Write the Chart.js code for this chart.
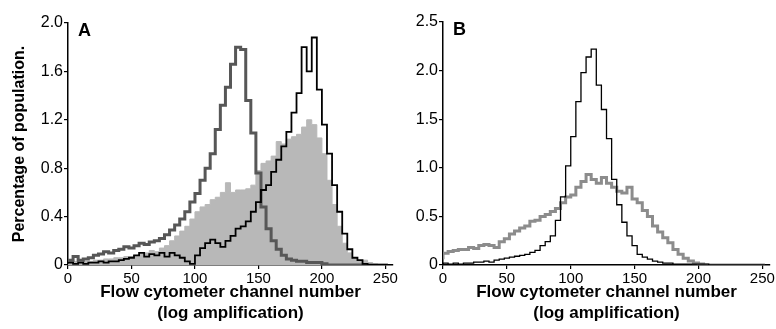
<!DOCTYPE html>
<html>
<head>
<meta charset="utf-8">
<script src="https://cdn.jsdelivr.net/npm/chart.js@4.4.0/dist/chart.umd.min.js"></script>
<style>
  body { margin: 0; background: #fff; }
  #chartA { position: absolute; left: 0; top: 0; }
  #chartB { position: absolute; left: 400px; top: 0; }
</style>
</head>
<body>
<canvas id="chartA" width="400" height="329"></canvas>
<canvas id="chartB" width="376" height="329"></canvas>
<script>
// flow cytometer channels (4-channel bins)
const channels = [0, 4, 8, 12, 16, 20, 24, 28, 32, 36, 40, 44, 48, 52, 56, 60,
  64, 68, 72, 76, 80, 84, 88, 92, 96, 100, 104, 108, 112, 116, 120, 124,
  128, 132, 136, 140, 144, 148, 152, 156, 160, 164, 168, 172, 176, 180, 184, 188,
  192, 196, 200, 204, 208, 212, 216, 220, 224, 228, 232, 236, 240, 244, 248, 252];

// panel A
const darkA = [0.03, 0.04, 0.07, 0.04, 0.05, 0.06, 0.08, 0.09, 0.11, 0.10, 0.12, 0.13, 0.15, 0.14, 0.16, 0.18,
  0.17, 0.19, 0.20, 0.22, 0.25, 0.29, 0.33, 0.38, 0.44, 0.52, 0.59, 0.70, 0.80, 0.92, 1.12, 1.32,
  1.47, 1.66, 1.80, 1.78, 1.36, 1.09, 0.76, 0.48, 0.30, 0.20, 0.13, 0.08, 0.05, 0.04, 0.03, 0.03,
  0.02, 0.02, 0.02, 0.01, 0, 0, 0, 0, 0, 0, 0, 0, 0, 0, 0, 0];
const fillA = [0.02, 0.03, 0.03, 0.02, 0.03, 0.03, 0.04, 0.04, 0.05, 0.05, 0.06, 0.06, 0.07, 0.07, 0.08, 0.09,
  0.10, 0.12, 0.11, 0.14, 0.16, 0.20, 0.24, 0.28, 0.32, 0.38, 0.44, 0.48, 0.50, 0.54, 0.56, 0.60,
  0.68, 0.60, 0.62, 0.62, 0.63, 0.66, 0.78, 0.84, 0.86, 0.90, 1.02, 1.00, 1.04, 1.06, 1.08, 1.14,
  1.20, 1.16, 1.05, 0.92, 0.70, 0.50, 0.32, 0.18, 0.10, 0.05, 0.03, 0.04, 0.02, 0.01, 0, 0];
const blackA = [0.01, 0.02, 0.01, 0.02, 0.01, 0.02, 0.02, 0.03, 0.02, 0.03, 0.03, 0.04, 0.05, 0.06, 0.08, 0.10,
  0.07, 0.09, 0.08, 0.10, 0.07, 0.10, 0.08, 0.06, 0.03, 0.01, 0.08, 0.14, 0.18, 0.21, 0.18, 0.15,
  0.20, 0.24, 0.30, 0.32, 0.36, 0.44, 0.52, 0.62, 0.66, 0.77, 0.87, 0.98, 1.10, 1.26, 1.42, 1.80,
  1.60, 1.88, 1.45, 1.16, 0.92, 0.66, 0.44, 0.26, 0.13, 0.06, 0.04, 0.01, 0, 0, 0, 0];

// panel B
const blackB = [0.01, 0.02, 0.01, 0.02, 0.01, 0.02, 0.02, 0.03, 0.03, 0.04, 0.03, 0.05, 0.06, 0.07, 0.08, 0.09,
  0.10, 0.11, 0.13, 0.15, 0.20, 0.24, 0.30, 0.46, 0.70, 1.02, 1.32, 1.68, 1.98, 2.14, 2.22, 1.85,
  1.60, 1.30, 0.88, 0.62, 0.44, 0.30, 0.20, 0.11, 0.08, 0.06, 0.04, 0.03, 0.02, 0.02, 0.01, 0.01,
  0.01, 0.01, 0.01, 0.01, 0.01, 0, 0, 0, 0, 0, 0, 0, 0, 0, 0, 0];
const grayB = [0.06, 0.12, 0.14, 0.15, 0.16, 0.16, 0.18, 0.17, 0.20, 0.21, 0.20, 0.18, 0.24, 0.27, 0.32, 0.35,
  0.38, 0.40, 0.45, 0.46, 0.50, 0.52, 0.55, 0.58, 0.64, 0.70, 0.72, 0.80, 0.86, 0.93, 0.88, 0.84,
  0.90, 0.84, 0.80, 0.76, 0.74, 0.80, 0.68, 0.64, 0.56, 0.50, 0.40, 0.34, 0.28, 0.23, 0.16, 0.11,
  0.07, 0.04, 0.02, 0.01, 0, 0, 0, 0, 0, 0, 0, 0, 0, 0, 0, 0];

const xTicks = [0, 50, 100, 150, 200, 250];
const xTitle = ['Flow cytometer channel number', '(log amplification)'];
const yTitle = 'Percentage of population.';

Chart.defaults.font.family = "'Liberation Sans', Arial, sans-serif";
Chart.defaults.font.size = 15;
Chart.defaults.color = '#000';

const toPoints = vals => channels.map((c, i) => ({ x: c, y: vals[i] }));

const panelLetter = {
  id: 'panelLetter',
  afterDraw(chart, args, opts) {
    const { ctx, chartArea } = chart;
    ctx.save();
    ctx.font = "bold 18px 'Liberation Sans', Arial, sans-serif";
    ctx.fillStyle = '#000';
    ctx.fillText(opts.text, chartArea.left + 10, chartArea.top + 13);
    ctx.restore();
  }
};

function xScale() {
  return {
    type: 'linear',
    min: 0,
    max: 256,
    afterFit: s => { s.height = 64; },
    afterBuildTicks: s => { s.ticks = xTicks.map(v => ({ value: v })); },
    ticks: { padding: 1, maxRotation: 0, includeBounds: false, font: { size: 15 } },
    grid: { drawOnChartArea: false, drawTicks: true, tickLength: 4, color: '#000', lineWidth: 1.2 },
    border: { display: true, color: '#000', width: 1.5 },
    title: {
      display: true,
      text: xTitle,
      font: { size: 17, weight: 'bold', lineHeight: 1.24 },
      padding: { top: 0, bottom: 5 }
    }
  };
}

function yScale(max, step, width, title) {
  return {
    min: 0,
    max: max,
    afterFit: s => { s.width = width; },
    ticks: {
      stepSize: step,
      padding: 1,
      font: { size: 16 },
      callback: v => (v === 0 ? '0' : v.toFixed(1))
    },
    grid: { drawOnChartArea: false, drawTicks: true, tickLength: 4, color: '#000', lineWidth: 1.2 },
    border: { display: true, color: '#000', width: 1.5 },
    title: {
      display: !!title,
      text: title || '',
      font: { size: 16, weight: 'bold', lineHeight: 1.2 },
      padding: { top: 10, bottom: 0 }
    }
  };
}

const commonOpts = {
  responsive: false,
  animation: false,
  elements: { point: { radius: 0 } },
  plugins: { legend: { display: false }, tooltip: { enabled: false } }
};

new Chart(document.getElementById('chartA').getContext('2d'), {
  type: 'line',
  data: {
    datasets: [{
      data: toPoints(blackA),
      borderColor: '#000',
      borderWidth: 1.8,
      stepped: 'after',
      fill: false
    }, {
      data: toPoints(darkA),
      borderColor: '#575757',
      borderWidth: 3,
      stepped: 'after',
      fill: false
    }, {
      data: toPoints(fillA),
      borderColor: '#b8b8b8',
      backgroundColor: '#b8b8b8',
      borderWidth: 1,
      stepped: 'after',
      fill: 'origin'
    }]
  },
  options: {
    ...commonOpts,
    layout: { padding: { top: 23, right: 7, left: 0, bottom: 0 } },
    scales: { x: xScale(), y: yScale(2.0, 0.4, 68, yTitle) },
    plugins: { ...commonOpts.plugins, panelLetter: { text: 'A' } }
  },
  plugins: [panelLetter]
});

new Chart(document.getElementById('chartB').getContext('2d'), {
  type: 'line',
  data: {
    datasets: [{
      data: toPoints(blackB),
      borderColor: '#000',
      borderWidth: 1.3,
      stepped: 'after',
      fill: false
    }, {
      data: toPoints(grayB),
      borderColor: '#8c8c8c',
      borderWidth: 3,
      stepped: 'after',
      fill: false
    }]
  },
  options: {
    ...commonOpts,
    layout: { padding: { top: 22, right: 5, left: 0, bottom: 0 } },
    scales: { x: xScale(), y: yScale(2.5, 0.5, 43, null) },
    plugins: { ...commonOpts.plugins, panelLetter: { text: 'B' } }
  },
  plugins: [panelLetter]
});
</script>
</body>
</html>
